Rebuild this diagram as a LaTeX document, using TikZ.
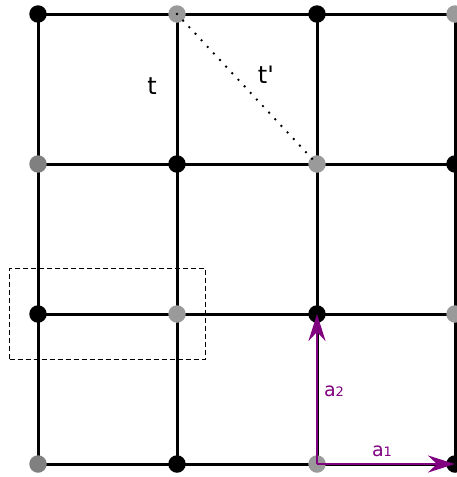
\documentclass[tikz,border=0pt]{standalone}
\usepackage{fontspec}
\setmainfont{DejaVu Sans}
\usepackage{xcolor}
\definecolor{lightdot}{RGB}{154, 154, 154}
\definecolor{darkdot}{RGB}{128, 128, 128}
\definecolor{vec}{RGB}{128, 0, 128}
\usepackage{tikz}
\usetikzlibrary{arrows.meta,positioning,fit,backgrounds}

\begin{document}
\begin{tikzpicture}[
  x=1pt, y=-1pt,
  site/.style={circle, inner sep=0pt, minimum size=17.5pt},
  bond/.style={line width=3pt, black},
  label/.style={font=\fontsize{24}{28}\selectfont},
  vlabel/.style={font=\fontsize{19}{22}\selectfont, text=vec},
  vecarrow/.style={-{Stealth[length=27pt, width=17pt, inset=9pt]}, line width=2.8pt, color=vec}
]
\useasboundingbox (0,0) rectangle (456,477);

\foreach \i/\x in {0/38, 1/177, 2/317, 3/455} {
  \foreach \j/\y in {0/14, 1/164, 2/314, 3/464} {
    \pgfmathtruncatemacro{\parity}{mod(\i+\j,2)}
    \ifnum\parity=0
      \node[site, fill=black] (d\i\j) at (\x,\y) {};
    \else
      \ifnum\i=0
        \node[site, fill=darkdot] (d\i\j) at (\x,\y) {};
      \else
        \node[site, fill=lightdot] (d\i\j) at (\x,\y) {};
      \fi
    \fi
  }
}

\begin{scope}[on background layer]
\foreach \k in {0,...,3} {
  \draw[bond] (d0\k.center) -- (d3\k.center);
  \draw[bond] (d\k0.center) -- (d\k3.center);
}
\end{scope}

\draw[line width=2.7pt, line cap=round, dash pattern=on 0pt off 9pt] (d10.center) -- (d21.center);
\node[label] (t) at (152,86) {t};
\node[label] (tp) at (266,75) {t\textquotesingle};

\node[draw, line width=1.6pt, dash pattern=on 5pt off 3pt, inner xsep=19.5pt, inner ysep=36.5pt, fit=(d02)(d12)] (cell) {};

\draw[vecarrow] (d23.center) -- (d22.center);
\draw[vecarrow] (d23.center) -- (d33.center);
\node[vlabel] (a2) at (334,391) {a{\fontsize{13}{15}\selectfont 2}};
\node[vlabel] (a1) at (382,451) {a{\fontsize{13}{15}\selectfont 1}};
\end{tikzpicture}
\end{document}
